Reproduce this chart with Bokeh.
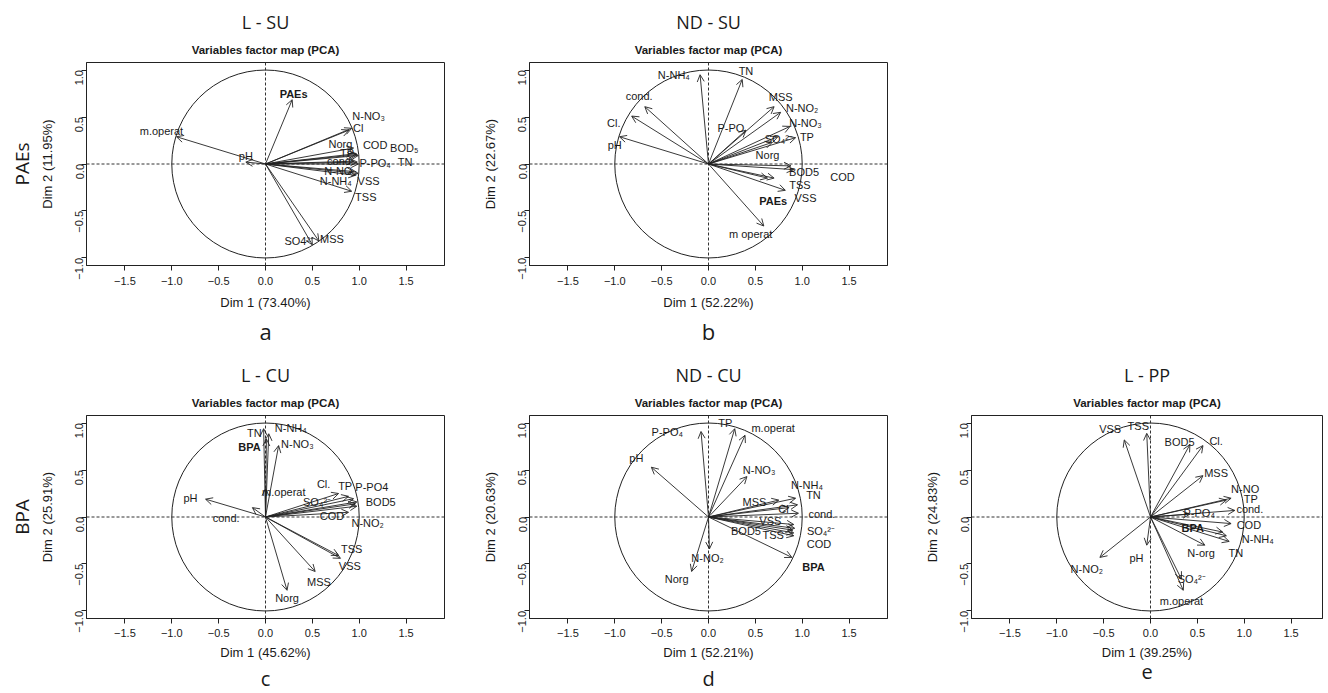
import math
from bokeh.plotting import figure
from bokeh.models import ColumnDataSource, Arrow, OpenHead, LabelSet, Span, Title, FixedTicker, Range1d
from bokeh.layouts import row, column
from bokeh.embed import file_html
from bokeh.resources import INLINE
from bokeh.core.properties import value

# ---------------- data ----------------
# Panel a : L - SU
a_vars = ["PAEs", "m.operat", "pH", "N-NO₃", "Cl", "Norg", "TP", "COD", "BOD₅", "cond.",
          "P-PO₄", "TN", "N-NO₂", "VSS", "N-NH₄", "TSS", "SO4²⁻", "MSS"]
a_dim1 = [0.285, -0.95, -0.21, 0.89, 0.92, 0.94, 0.97, 0.98, 0.99, 0.94, 0.98, 0.99, 0.94, 0.99, 0.96, 0.92, 0.50, 0.57]
a_dim2 = [0.684, 0.29, 0.02, 0.36, 0.38, 0.17, 0.11, 0.10, 0.09, 0.03, 0.02, 0.00, -0.08, -0.10, -0.12, -0.29, -0.86, -0.82]

# Panel b : ND - SU
b_vars = ["N-NH₄", "TN", "cond.", "Cl.", "pH", "MSS", "N-NO₂", "N-NO₃", "P-PO", "SO₄²⁻", "TP", "Norg",
          "BOD5", "COD", "TSS", "VSS", "PAEs", "m operat"]
b_dim1 = [-0.09, 0.36, -0.68, -0.82, -0.95, 0.70, 0.77, 0.87, 0.40, 0.74, 0.93, 0.68, 0.88, 0.91, 0.70, 0.82, 0.63, 0.59]
b_dim2 = [0.95, 0.90, 0.61, 0.51, 0.29, 0.61, 0.55, 0.40, 0.36, 0.29, 0.28, 0.23, -0.02, -0.06, -0.15, -0.28, -0.15, -0.66]

# Panel c : L - CU
c_vars = ["TN", "BPA", "N-NH₄", "N-NO₃", "m.operat", "pH", "cond.", "Cl.", "TP", "P-PO4", "SO₄²⁻",
          "BOD5", "COD", "N-NO₂", "TSS", "VSS", "MSS", "Norg"]
c_dim1 = [-0.02, 0.01, 0.035, 0.14, 0.00, -0.64, -0.14, 0.78, 0.886, 0.94, 0.96, 0.975, 0.886, 0.975, 0.78, 0.80, 0.53, 0.23]
c_dim2 = [0.94, 0.83, 0.886, 0.76, 0.30, 0.19, 0.10, 0.25, 0.22, 0.195, 0.14, 0.16, 0.05, 0.115, -0.41, -0.44, -0.58, -0.78]

# Panel d : ND - CU
d_vars = ["TP", "m.operat", "P-PO₄", "pH", "N-NO₃", "N-NH₄", "TN", "MSS", "Cl", "cond.", "VSS",
          "SO₄²⁻", "BOD5", "TSS", "COD", "BPA", "N-NO₂", "Norg"]
d_dim1 = [0.28, 0.39, -0.08, -0.61, 0.41, 0.93, 0.95, 0.75, 0.86, 0.96, 0.91, 0.92, 0.90, 0.91, 0.91, 0.89, 0.01, -0.18]
d_dim2 = [0.94, 0.87, 0.91, 0.53, 0.43, 0.20, 0.13, 0.18, 0.10, 0.04, -0.08, -0.12, -0.14, -0.17, -0.20, -0.43, -0.34, -0.58]

# Panel e : L - PP
e_vars = ["VSS", "TSS", "BOD5", "Cl.", "MSS", "N-NO", "TP", "cond.", "P-PO₄", "COD", "BPA", "N-NH₄",
          "TN", "N-org", "SO₄²⁻", "m.operat", "pH", "N-NO₂"]
e_dim1 = [-0.28, -0.04, 0.42, 0.56, 0.56, 0.86, 0.81, 0.90, 0.42, 0.86, 0.77, 0.81, 0.84, 0.58, 0.33, 0.35, -0.04, -0.54]
e_dim2 = [0.82, 0.89, 0.77, 0.76, 0.44, 0.20, 0.18, 0.07, 0.03, -0.07, -0.16, -0.20, -0.26, -0.30, -0.66, -0.78, -0.30, -0.43]

dim1_pct = ["73.40%", "52.22%", "45.62%", "52.21%", "39.25%"]
dim2_pct = ["11.95%", "22.67%", "25.91%", "20.63%", "24.83%"]
panel_titles = ["L - SU", "ND - SU", "L - CU", "ND - CU", "L - PP"]
panel_letters = ["a", "b", "c", "d", "e"]
row_labels = ["PAEs", "BPA"]
x_ticks = [-1.5, -1.0, -0.5, 0.0, 0.5, 1.0, 1.5]
y_ticks = [-1.0, -0.5, 0.0, 0.5, 1.0]

# ---------------- label placement (layout, data units) ----------------
a_lab_x = [0.30, -1.11, -0.21, 1.10, 0.99, 0.80, 0.87, 1.17, 1.48, 0.80, 1.17, 1.49, 0.80, 1.10, 0.75, 1.07, 0.36, 0.71]
a_lab_y = [0.745, 0.35, 0.08, 0.51, 0.38, 0.21, 0.12, 0.20, 0.17, 0.03, 0.01, 0.02, -0.07, -0.18, -0.18, -0.35, -0.82, -0.80]
b_lab_x = [-0.37, 0.40, -0.74, -1.01, -1.00, 0.77, 1.00, 1.035, 0.24, 0.75, 1.05, 0.63, 1.02, 1.43, 0.975, 1.035, 0.69, 0.45]
b_lab_y = [0.95, 0.99, 0.72, 0.44, 0.20, 0.71, 0.60, 0.44, 0.38, 0.27, 0.29, 0.10, -0.09, -0.14, -0.22, -0.36, -0.39, -0.75]
c_lab_x = [-0.12, -0.17, 0.27, 0.34, 0.195, -0.80, -0.42, 0.62, 0.85, 1.135, 0.55, 1.23, 0.71, 1.09, 0.92, 0.90, 0.57, 0.23]
c_lab_y = [0.89, 0.74, 0.95, 0.78, 0.27, 0.20, -0.01, 0.355, 0.33, 0.32, 0.16, 0.16, 0.01, -0.06, -0.34, -0.52, -0.69, -0.86]
d_lab_x = [0.18, 0.69, -0.44, -0.77, 0.54, 1.05, 1.12, 0.49, 0.80, 1.21, 0.66, 1.20, 0.40, 0.69, 1.18, 1.12, -0.01, -0.34]
d_lab_y = [1.00, 0.95, 0.90, 0.63, 0.50, 0.34, 0.23, 0.16, 0.08, 0.03, -0.04, -0.15, -0.15, -0.19, -0.29, -0.53, -0.44, -0.66]
e_lab_x = [-0.43, -0.13, 0.31, 0.70, 0.70, 1.01, 1.07, 1.06, 0.52, 1.05, 0.45, 1.145, 0.91, 0.54, 0.44, 0.33, -0.15, -0.68]
e_lab_y = [0.94, 0.97, 0.80, 0.81, 0.47, 0.30, 0.19, 0.09, 0.045, -0.08, -0.12, -0.23, -0.38, -0.38, -0.66, -0.89, -0.44, -0.55]

TXT = "#1a1a1a"
SANS = "Liberation Sans"
TITLE_FONT = "Open Sans"
UNIT_PX = 358 / 3.82


def make_panel(idx, names, d1, d2, lx, ly, side=None, left=79, right=5, top=58, bottom=92,
               frame_w=358, compact=False):
    xr_end = -1.91 + frame_w / UNIT_PX
    p = figure(frame_width=frame_w, frame_height=203,
               x_range=Range1d(-1.91, xr_end), y_range=Range1d(-1.08, 1.08),
               output_backend="svg", toolbar_location=None,
               min_border_left=left, min_border_right=right,
               min_border_top=top, min_border_bottom=bottom,
               title=panel_titles[idx])
    p.title.align = "center"
    p.title.text_font = TITLE_FONT
    p.title.text_font_style = "normal"
    p.title.text_font_size = "18px"
    p.title.text_color = TXT
    p.title.standoff = 4
    p.add_layout(Title(text="Variables factor map (PCA)", align="center", text_font=SANS,
                       text_font_style="bold", text_font_size="11.5px", text_color=TXT,
                       standoff=13), "above")
    p.grid.visible = False
    p.background_fill_color = "white"
    p.border_fill_color = "white"
    p.outline_line_color = "#222222"
    p.outline_line_width = 1

    for ax in (p.xaxis[0], p.yaxis[0]):
        ax.axis_line_color = "#222222"
        ax.major_tick_line_color = "#222222"
        ax.major_tick_out = 5
        ax.major_tick_in = 0
        ax.minor_tick_line_color = None
        ax.major_label_text_font = SANS
        ax.major_label_text_font_size = "11px"
        ax.major_label_text_color = TXT
        ax.axis_label_text_font = SANS
        ax.axis_label_text_font_size = "13px"
        ax.axis_label_text_font_style = "normal"
        ax.axis_label_text_color = TXT
    p.xaxis.ticker = FixedTicker(ticks=x_ticks)
    p.yaxis.ticker = FixedTicker(ticks=y_ticks)
    fmt = lambda v: ("−" if v < 0 else "") + f"{abs(v):.1f}"
    p.xaxis.major_label_overrides = {v: fmt(v) for v in x_ticks}
    p.yaxis.major_label_overrides = {v: fmt(v) for v in y_ticks}
    p.yaxis.major_label_orientation = math.pi / 2
    p.xaxis.major_label_standoff = 5 if compact else 6
    p.yaxis.major_label_standoff = 2
    p.xaxis.axis_label = f"Dim 1 ({dim1_pct[idx]})"
    p.yaxis.axis_label = f"Dim 2 ({dim2_pct[idx]})"
    p.xaxis.axis_label_standoff = 5 if compact else 7
    p.yaxis.axis_label_standoff = 14

    p.add_layout(Title(text=panel_letters[idx], align="center", text_font=TITLE_FONT,
                       text_font_style="normal", text_font_size="20px" if compact else "22px",
                       text_color=TXT, standoff=0 if compact else 2), "below")
    if side:
        p.add_layout(Title(text=side, align="center", text_font=TITLE_FONT,
                           text_font_style="normal", text_font_size="19px", text_color=TXT,
                           standoff=4), "left")

    # reference lines and correlation circle
    p.add_layout(Span(location=0, dimension="width", line_color="#333333", line_width=1, line_dash="3 2"))
    p.add_layout(Span(location=0, dimension="height", line_color="#333333", line_width=1, line_dash="3 2"))
    p.ellipse(x=[0], y=[0], width=[2], height=[2], fill_color=None, line_color="#222222", line_width=1)

    src = ColumnDataSource(dict(x0=[0.0] * len(d1), y0=[0.0] * len(d1), x1=d1, y1=d2))
    p.add_layout(Arrow(source=src, x_start="x0", y_start="y0", x_end="x1", y_end="y1",
                       line_color="#222222", line_width=0.9,
                       end=OpenHead(size=7, line_color="#222222", line_width=0.9)))

    bold_names = set(row_labels)
    norm = [i for i, n in enumerate(names) if n not in bold_names]
    bold = [i for i, n in enumerate(names) if n in bold_names]
    for ids, style in ((norm, "normal"), (bold, "bold")):
        if not ids:
            continue
        ls = ColumnDataSource(dict(x=[lx[i] for i in ids], y=[ly[i] for i in ids],
                                   t=[names[i] for i in ids]))
        p.add_layout(LabelSet(x="x", y="y", text="t", source=ls, text_align="center",
                              text_baseline="middle", text_font=value(SANS),
                              text_font_size="11px", text_font_style=style, text_color=TXT))
    return p


pa = make_panel(0, a_vars, a_dim1, a_dim2, a_lab_x, a_lab_y, side=row_labels[0],
                left=86, right=6, top=62, bottom=92)
pb = make_panel(1, b_vars, b_dim1, b_dim2, b_lab_x, b_lab_y, left=79, right=5, top=62, bottom=92)
pc = make_panel(2, c_vars, c_dim1, c_dim2, c_lab_x, c_lab_y, side=row_labels[1],
                left=86, right=6, top=58, bottom=70, compact=True)
pd = make_panel(3, d_vars, d_dim1, d_dim2, d_lab_x, d_lab_y, left=79, right=5, top=58, bottom=70,
                compact=True)
pe = make_panel(4, e_vars, e_dim1, e_dim2, e_lab_x, e_lab_y, left=79, right=4, top=58, bottom=70,
                frame_w=351, compact=True)

layout = column(row(pa, pb), row(pc, pd, pe))
open("out.html", "w").write(file_html(layout, INLINE))
